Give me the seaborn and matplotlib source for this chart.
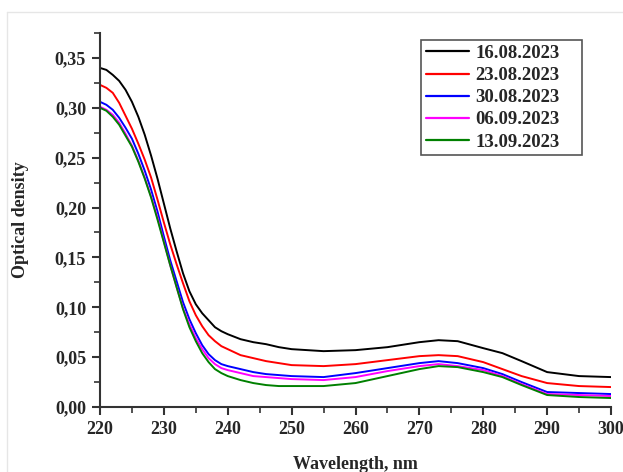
import numpy as np
import pandas as pd
import seaborn as sns
from matplotlib import pyplot as plt
from matplotlib.ticker import FuncFormatter, MultipleLocator
from matplotlib.lines import Line2D

wavelength = [220, 221, 222, 223, 224, 225, 226, 227, 228, 229, 230,
              231, 232, 233, 234, 235, 236, 237, 238, 239, 240,
              242, 244, 246, 248, 250, 255, 260, 265, 270, 273,
              276, 280, 283, 286, 290, 295, 300]

d_16_08 = [0.340, 0.338, 0.333, 0.327, 0.318, 0.306, 0.291, 0.273, 0.252, 0.229, 0.204,
           0.179, 0.156, 0.134, 0.116, 0.103, 0.094, 0.087, 0.080, 0.076, 0.073,
           0.068, 0.065, 0.063, 0.060, 0.058, 0.056, 0.057, 0.060, 0.065, 0.067,
           0.066, 0.059, 0.054, 0.046, 0.035, 0.031, 0.030]
d_23_08 = [0.323, 0.320, 0.315, 0.305, 0.292, 0.279, 0.264, 0.248, 0.230, 0.208, 0.185,
           0.163, 0.143, 0.124, 0.106, 0.092, 0.081, 0.072, 0.066, 0.061, 0.058,
           0.052, 0.049, 0.046, 0.044, 0.042, 0.041, 0.043, 0.047, 0.051, 0.052,
           0.051, 0.045, 0.038, 0.031, 0.024, 0.021, 0.020]
d_30_08 = [0.306, 0.303, 0.298, 0.290, 0.280, 0.269, 0.254, 0.237, 0.218, 0.196, 0.171,
           0.147, 0.126, 0.105, 0.088, 0.074, 0.062, 0.053, 0.047, 0.043, 0.041,
           0.038, 0.035, 0.033, 0.032, 0.031, 0.030, 0.034, 0.039, 0.044, 0.046,
           0.044, 0.039, 0.033, 0.025, 0.015, 0.014, 0.013]
d_06_09 = [0.301, 0.298, 0.293, 0.285, 0.274, 0.262, 0.247, 0.230, 0.211, 0.190, 0.166,
           0.142, 0.120, 0.099, 0.083, 0.069, 0.058, 0.049, 0.043, 0.039, 0.037,
           0.034, 0.031, 0.030, 0.029, 0.028, 0.027, 0.030, 0.036, 0.041, 0.043,
           0.041, 0.037, 0.031, 0.023, 0.013, 0.012, 0.011]
d_13_09 = [0.300, 0.297, 0.291, 0.283, 0.272, 0.261, 0.246, 0.229, 0.210, 0.188, 0.165,
           0.142, 0.120, 0.098, 0.080, 0.066, 0.054, 0.045, 0.038, 0.034, 0.031,
           0.027, 0.024, 0.022, 0.021, 0.021, 0.021, 0.024, 0.031, 0.038, 0.041,
           0.040, 0.035, 0.030, 0.022, 0.012, 0.010, 0.009]

dates = ['16.08.2023', '23.08.2023', '30.08.2023', '06.09.2023', '13.09.2023']
colors = ['#000000', '#ff0000', '#0000ff', '#ff00ff', '#008000']

series = [d_16_08, d_23_08, d_30_08, d_06_09, d_13_09]
df = pd.concat([pd.DataFrame({'wl': wavelength, 'od': s, 'date': d})
                for s, d in zip(series, dates)], ignore_index=True)

sns.set_style('ticks')
plt.rcParams['font.family'] = ['Liberation Serif', 'DejaVu Serif']
plt.rcParams['font.weight'] = 'bold'

fig = plt.figure(figsize=(6.23, 4.72), dpi=100)
ax = fig.add_axes([100 / 623, 1 - 407 / 472, 511 / 623, 374 / 472])

sns.lineplot(data=df, x='wl', y='od', hue='date', hue_order=dates,
             palette=dict(zip(dates, colors)), linewidth=1.4, ax=ax, legend=False)

ax.set_xlim(220, 300)
ax.set_ylim(0, 0.375)
ax.xaxis.set_major_locator(MultipleLocator(10))
ax.xaxis.set_minor_locator(MultipleLocator(5))
ax.yaxis.set_major_locator(MultipleLocator(0.05))
ax.yaxis.set_minor_locator(MultipleLocator(0.025))
ax.yaxis.set_major_formatter(FuncFormatter(lambda v, p: f'{v:.2f}'.replace('.', ',')))

for side in ['top', 'right']:
    ax.spines[side].set_visible(False)
for side in ['left', 'bottom']:
    ax.spines[side].set_color('#333333')
    ax.spines[side].set_linewidth(1.5)

ax.tick_params(which='major', length=6, width=1.5, color='#333333', labelsize=13, pad=4)
ax.tick_params(which='minor', length=4, width=1.2, color='#333333')
for lab in ax.get_xticklabels() + ax.get_yticklabels():
    lab.set_fontweight('bold')

ax.set_xlabel('Wavelength, nm', fontsize=13, fontweight='bold')
ax.set_ylabel('Optical density', fontsize=13, fontweight='bold')
ax.xaxis.set_label_coords(0.5, -0.131)
ax.yaxis.set_label_coords(-0.139, 0.5)

handles = [Line2D([0], [0], color=c, lw=1.6) for c in colors]
leg = ax.legend(handles, dates, loc='upper left', bbox_to_anchor=(0.628, 0.5, 0.315, 0.481),
                mode='expand', borderaxespad=0, fancybox=False, framealpha=1,
                edgecolor='#555555', prop={'size': 13.5, 'weight': 'bold'},
                handlelength=2.3, labelspacing=0.27, borderpad=0.25, handletextpad=0.35)
leg.get_frame().set_linewidth(1.2)

# faint outer frame of the original picture
fig.add_artist(Line2D([7 / 623, 1], [1 - 12 / 472, 1 - 12 / 472], color='#e6e6e6', lw=1))
fig.add_artist(Line2D([7 / 623, 7 / 623], [0, 1 - 12 / 472], color='#e6e6e6', lw=1))

fig.savefig('out.png', dpi=100)
